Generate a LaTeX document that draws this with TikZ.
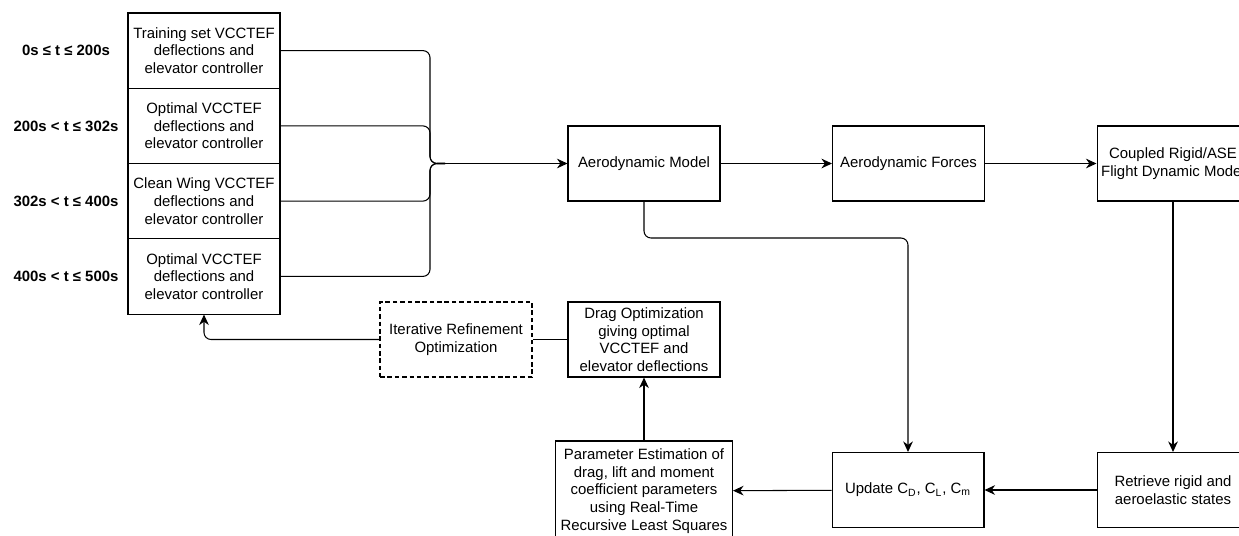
\documentclass[tikz,border=0pt]{standalone}
\usepackage{fontspec}
\setmainfont{Liberation Sans}
\usetikzlibrary{arrows.meta}

\begin{document}
\begin{tikzpicture}[x=0.02cm, y=-0.02cm, line width=0.6pt,
    >={Stealth[length=6pt, width=5.5pt]},
    box/.style={draw, align=center, minimum width=3.04cm, minimum height=1.5cm,
        inner sep=1pt, font=\fontsize{8.5}{10}\selectfont},
    dashbox/.style={box, dash pattern=on 2.6pt off 1.6pt},
    timelabel/.style={font=\fontsize{8.5}{10}\selectfont\bfseries}]
    \useasboundingbox (0,0) rectangle (1239,535);

    % Input schedule
    \node[box, minimum height=1.505cm] (s1) at (204, 50.6) {Training set VCCTEF\\deflections and\\elevator controller};
    \node[box, minimum height=1.505cm] (s2) at (204, 125.9) {Optimal VCCTEF\\deflections and\\elevator controller};
    \node[box, minimum height=1.505cm] (s3) at (204, 201.1) {Clean Wing VCCTEF\\deflections and\\elevator controller};
    \node[box, minimum height=1.505cm] (s4) at (204, 276.4) {Optimal VCCTEF\\deflections and\\elevator controller};

    % Time ranges
    \node[timelabel] (t1) at (66, 50.6) {0s ≤ t ≤ 200s};
    \node[timelabel] (t2) at (66, 125.9) {200s < t ≤ 302s};
    \node[timelabel] (t3) at (66, 201.1) {302s < t ≤ 400s};
    \node[timelabel] (t4) at (66, 276.4) {400s < t ≤ 500s};

    % Main loop
    \node[box] (aero) at (644, 163.5) {Aerodynamic Model};
    \node[box] (forces) at (908.5, 163.5) {Aerodynamic Forces};
    \node[box] (flight) at (1173, 163.5) {Coupled Rigid/ASE\\Flight Dynamic Model};
    \node[box] (states) at (1173, 490) {Retrieve rigid and\\aeroelastic states};
    \node[box] (update) at (908, 490) {Update C\textsubscript{D}, C\textsubscript{L}, C\textsubscript{m}};
    \node[box, minimum width=3.54cm, minimum height=2cm] (rls) at (644, 491) {Parameter Estimation of\\drag, lift and moment\\coefficient parameters\\using Real-Time\\Recursive Least Squares};
    \node[box] (drag) at (644, 339.5) {Drag Optimization\\giving optimal\\VCCTEF and\\elevator deflections};
    \node[dashbox] (iter) at (456, 339.5) {Iterative Refinement\\Optimization};

    % Merge into aerodynamic model
    \coordinate (merge) at (430, 163.5);
    \coordinate (mergeout) at (445, 163.5);
    \foreach \i in {1,...,4}
        \draw[rounded corners=4pt] (s\i.east) -| (merge) -- (mergeout);
    \draw[->] (mergeout) -- (aero);

    % Connectors
    \draw[->] (aero) -- (forces);
    \draw[->] (forces) -- (flight);
    \draw[->] (flight) -- (states);
    \draw[->] (states) -- (update);
    \draw[->] (update) -- (rls);
    \draw[->] (rls) -- (drag);
    \draw (drag) -- (iter);
    \draw[->, rounded corners=4pt] (iter) -| (s4);
    \coordinate (bend) at (908, 238);
    \draw[->, rounded corners=4pt] (aero) |- (bend) -- (update);
\end{tikzpicture}
\end{document}
